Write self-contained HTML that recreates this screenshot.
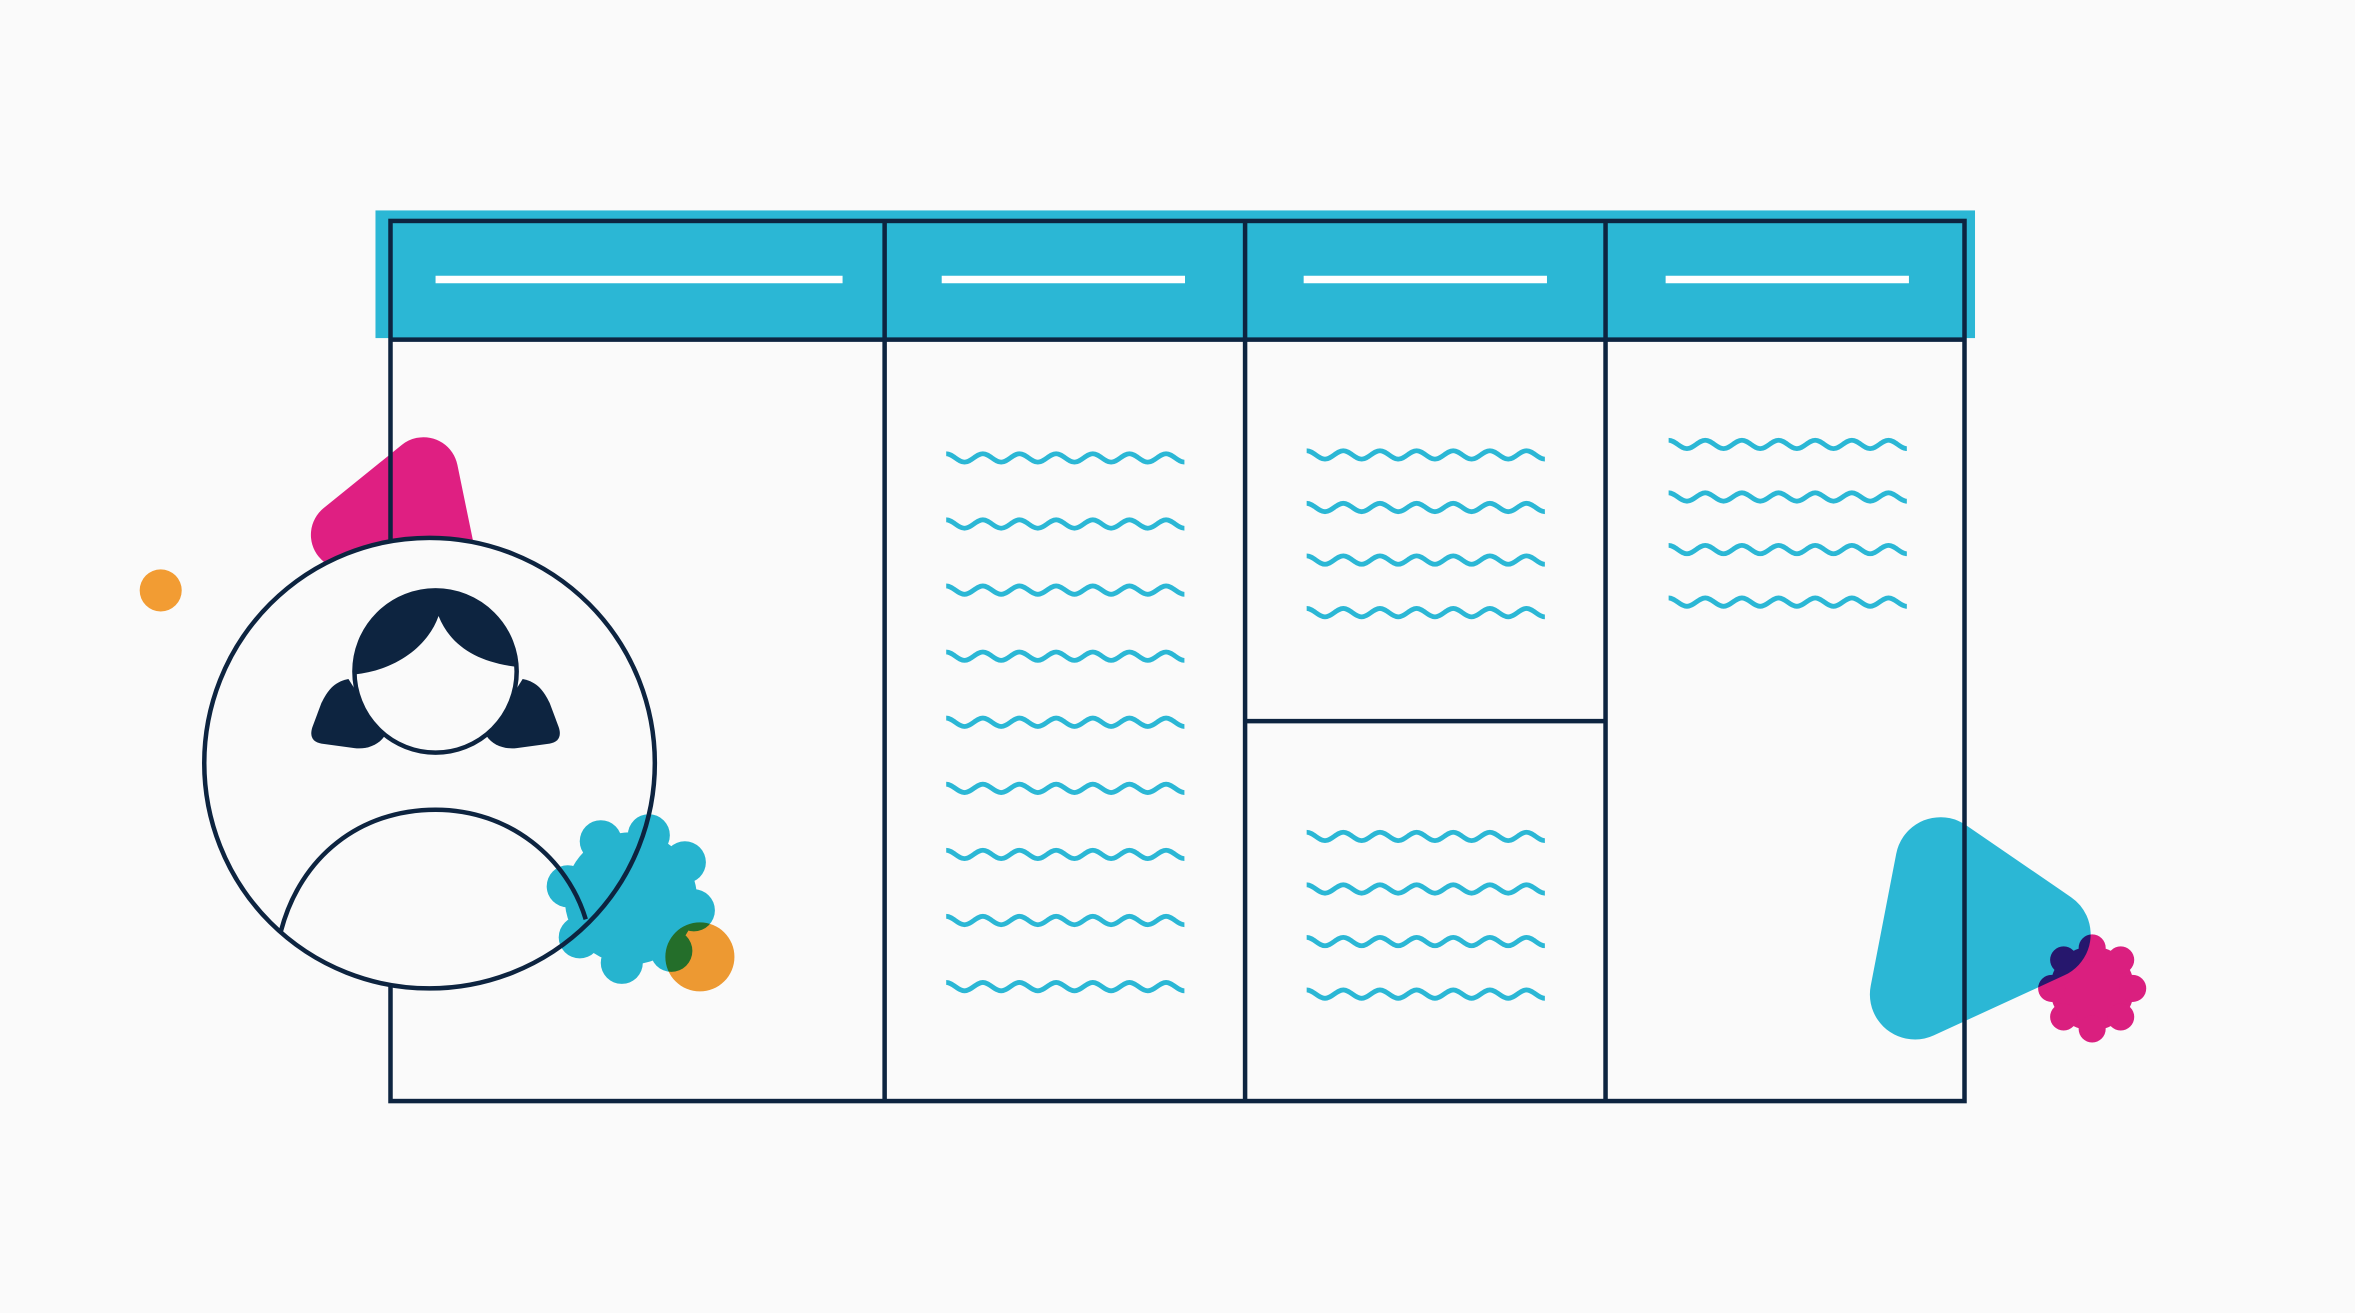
<!DOCTYPE html>
<html><head><meta charset="utf-8"><style>
html,body{margin:0;padding:0;background:#fafafa;}
svg{display:block;}
</style></head><body>
<svg width="2355" height="1313" viewBox="0 0 1568 874" xmlns="http://www.w3.org/2000/svg">
<defs>
<path id="w" d="M0,0 c4.4,0 7.8,5.6 12.2,5.6 c4.4,0 7.8,-5.6 12.2,-5.6 c4.4,0 7.8,5.6 12.2,5.6 c4.4,0 7.8,-5.6 12.2,-5.6 c4.4,0 7.8,5.6 12.2,5.6 c4.4,0 7.8,-5.6 12.2,-5.6 c4.4,0 7.8,5.6 12.2,5.6 c4.4,0 7.8,-5.6 12.2,-5.6 c4.4,0 7.8,5.6 12.2,5.6 c4.4,0 7.8,-5.6 12.2,-5.6 c4.4,0 7.8,5.6 12.2,5.6 c4.4,0 7.8,-5.6 12.2,-5.6 c4.4,0 7.8,5.6 12.2,5.6" fill="none" stroke="#2bb7d5" stroke-width="3.2"/>
</defs>
<rect width="1568" height="874" fill="#fafafa"/>
<polygon points="282,314 230,356 296,382" fill="#df1f82" stroke="#df1f82" stroke-width="46" stroke-linejoin="round"/>
<circle cx="107" cy="393" r="14" fill="#f29c33"/>
<polygon points="1292,574 1275,662 1362,622" fill="#2bb7d5" stroke="#2bb7d5" stroke-width="60" stroke-linejoin="round"/>
<rect x="250" y="140" width="1065" height="85" fill="#2bb7d5"/>
<g stroke="#0d2440" stroke-width="3" fill="none">
<rect x="260" y="147" width="1048" height="586"/>
<line x1="260" y1="226" x2="1308" y2="226"/>
<line x1="589" y1="147" x2="589" y2="733"/>
<line x1="829" y1="147" x2="829" y2="733"/>
<line x1="1069" y1="147" x2="1069" y2="733"/>
<line x1="829" y1="480" x2="1069" y2="480"/>
</g>
<g stroke="#ffffff" stroke-width="5">
<line x1="290" y1="186" x2="561" y2="186"/>
<line x1="627" y1="186" x2="789" y2="186"/>
<line x1="868" y1="186" x2="1030" y2="186"/>
<line x1="1109" y1="186" x2="1271" y2="186"/>
</g>
<g>
<use href="#w" x="630" y="302"/><use href="#w" x="630" y="346"/><use href="#w" x="630" y="390"/>
<use href="#w" x="630" y="434"/><use href="#w" x="630" y="478"/><use href="#w" x="630" y="522"/>
<use href="#w" x="630" y="566"/><use href="#w" x="630" y="610"/><use href="#w" x="630" y="654"/>
<use href="#w" x="870" y="300"/><use href="#w" x="870" y="335"/><use href="#w" x="870" y="370"/><use href="#w" x="870" y="405"/>
<use href="#w" x="870" y="554"/><use href="#w" x="870" y="589"/><use href="#w" x="870" y="624"/><use href="#w" x="870" y="659"/>
<use href="#w" x="1111" y="293"/><use href="#w" x="1111" y="328"/><use href="#w" x="1111" y="363"/><use href="#w" x="1111" y="398"/>
</g>
<circle cx="286" cy="508" r="150" fill="#fafafa"/>
<g fill="#26b8d3" style="mix-blend-mode:multiply">
<circle cx="420" cy="598" r="44"/>
<circle cx="400" cy="560" r="14"/><circle cx="432" cy="556" r="14"/><circle cx="456" cy="574" r="14"/>
<circle cx="462" cy="606" r="14"/><circle cx="447" cy="633" r="14"/><circle cx="414" cy="641" r="14"/>
<circle cx="386" cy="624" r="14"/><circle cx="378" cy="590" r="14"/>
</g>
<circle cx="466" cy="637" r="23" fill="#f29c33" style="mix-blend-mode:multiply"/>
<g fill="#df1f82" style="mix-blend-mode:multiply">
<circle cx="1393" cy="658" r="28"/>
<circle cx="1393" cy="631" r="9"/><circle cx="1412" cy="639" r="9"/><circle cx="1420" cy="658" r="9"/>
<circle cx="1412" cy="677" r="9"/><circle cx="1393" cy="685" r="9"/><circle cx="1374" cy="677" r="9"/>
<circle cx="1366" cy="658" r="9"/><circle cx="1374" cy="639" r="9"/>
</g>
<g fill="#0d2440">
<path d="M232,452 C222,454 218,460 214,468 L208,484 C206,490 208,494 214,495 L236,498 C244,499 252,496 256,490 Z"/>
<path d="M348,452 C358,454 362,460 366,468 L372,484 C374,490 372,494 366,495 L344,498 C336,499 328,496 324,490 Z"/>
</g>
<circle cx="290" cy="447" r="54" fill="#fafafa" stroke="#0d2440" stroke-width="3"/>
<path d="M236,449 C236,420 260,393 290,393 C320,393 345,420 345,444 C318,441 300,430 292,410 C285,430 264,446 236,449 Z" fill="#0d2440"/>
<g fill="none" stroke="#0d2440" stroke-width="3">
<circle cx="286" cy="508" r="150"/>
<path d="M187,620 C200,570 240,539 290,539 C340,539 378,572 390,612"/>
</g>
</svg>
</body></html>
